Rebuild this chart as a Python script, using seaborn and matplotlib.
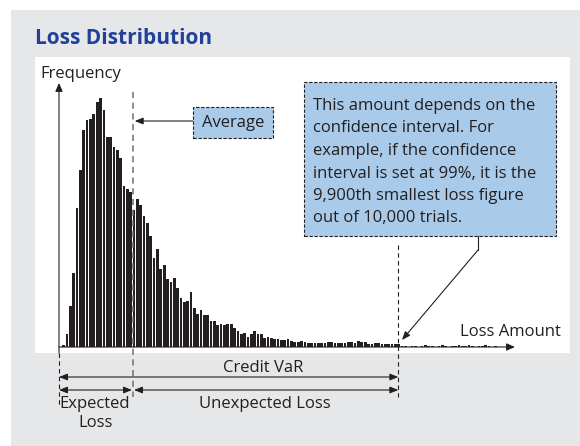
import numpy as np
import pandas as pd
import matplotlib
matplotlib.use("Agg")
import matplotlib.pyplot as plt
from matplotlib.patches import Rectangle
import seaborn as sns

# ---- data ----
# frequency per loss bucket (10,000 simulated trials, arbitrary units)
freq = [
    2, 13, 41, 74, 139, 177, 217, 227, 228, 233, 245, 249, 237,
    210, 210, 200, 197, 189, 161, 158, 155, 137, 148, 142, 131, 124,
    111, 89, 98, 78, 82, 68, 65, 69, 59, 49, 45, 46, 55, 39, 33, 37,
    32, 32, 26, 26, 22, 23, 22, 23, 23, 19, 16, 13, 14, 10, 13, 16,
    13, 13, 9,
    10, 9, 8, 8, 7, 7, 8, 6, 5, 5, 6, 5, 4, 4, 4, 4, 4, 4, 5, 5,
    4, 4, 4, 4, 5, 5, 4, 6, 5, 5, 3, 3, 4, 4, 3, 3, 3, 3, 3, 3,
    1, 1, 0, 1, 1, 0, 1, 2, 1, 1, 0, 1, 2, 1, 0, 1, 1, 2, 1, 1,
    2, 1, 0, 1, 1, 2, 1, 0, 1,
]
avg_loss = 21.2     # expected loss (bucket units)
var_loss = 100.4    # 99% quantile -> credit VaR

title = "Loss Distribution"
note_lines = [
    "This amount depends on the",
    "confidence interval. For",
    "example, if the confidence",
    "interval is set at 99%, it is the",
    "9,900th smallest loss figure",
    "out of 10,000 trials.",
]

INK = "#231f20"
BLUE = "#21409a"
BOXC = "#a9cbe9"
BG = "#e6e7e8"

sns.set_theme(style="white")
plt.rcParams["font.family"] = ["Open Sans", "DejaVu Sans"]

W, H = 580, 446
fig = plt.figure(figsize=(W / 100, H / 100), dpi=100)
fig.patch.set_facecolor("white")


def fx(x):
    return x / W


def fy(y):
    return 1 - y / H


# gray card behind everything
fig.add_artist(Rectangle((fx(11), 0), 1 - fx(11), fy(10), transform=fig.transFigure,
                         facecolor=BG, edgecolor="none", zorder=-5))

ax = fig.add_axes([fx(35), fy(353), fx(570) - fx(35), fy(57) - fy(353)])
ax.set_facecolor("white")

df = pd.DataFrame({"loss": np.arange(len(freq)) + 0.5, "freq": freq})
sns.histplot(data=df, x="loss", weights="freq", bins=len(freq), binrange=(0, len(freq)),
             shrink=0.8, color=INK, alpha=1, linewidth=0, ax=ax)

ax.set_xlim(-8.06, 151.64)
ax.set_ylim(-6, 290)
ax.set_xticks([])
ax.set_yticks([])
ax.set_xlabel("")
ax.set_ylabel("")
sns.despine(ax=ax, left=True, bottom=True)

x0 = -0.9
head = dict(color=INK, lw=0.8, shrinkA=0, shrinkB=0, mutation_scale=10)

# axes arrows
ax.annotate("", xy=(x0, 264), xytext=(x0, -6),
            arrowprops=dict(arrowstyle="-|>,head_length=0.5,head_width=0.22", **head))
ax.annotate("", xy=(135.2, 0), xytext=(x0, 0),
            arrowprops=dict(arrowstyle="-|>,head_length=0.5,head_width=0.22", **head))

# dashed markers
ax.plot([avg_loss, avg_loss], [255, -50], ls=(0, (4, 3)), color="#6d6e71", lw=1.1, clip_on=False)
ax.plot([var_loss, var_loss], [102, -50], ls=(0, (4, 3)), color=INK, lw=0.8, clip_on=False)
ax.plot([x0, x0], [-6, -60], ls=(0, (4, 3)), color=INK, lw=0.8, clip_on=False)

# dimension arrows
dim = dict(arrowstyle="<|-|>,head_length=0.5,head_width=0.2", **head)
ax.annotate("", xy=(var_loss, -30), xytext=(x0, -30), arrowprops=dim, annotation_clip=False)
ax.annotate("", xy=(avg_loss - 0.3, -43), xytext=(x0, -43), arrowprops=dim, annotation_clip=False)
ax.annotate("", xy=(var_loss, -43), xytext=(avg_loss + 0.3, -43), arrowprops=dim, annotation_clip=False)

# texts
fig.text(fx(35), fy(44), title, color=BLUE, fontsize=15, fontweight="bold", va="baseline")
fig.text(fx(40), fy(78), "Frequency", color=INK, fontsize=12, va="baseline")
fig.text(fx(460), fy(336), "Loss Amount", color=INK, fontsize=12, va="baseline")
fig.text(fx(263), fy(372), "Credit VaR", color=INK, fontsize=12, ha="center", va="baseline")
fig.text(fx(265), fy(408), "Unexpected Loss", color=INK, fontsize=12, ha="center", va="baseline")
fig.text(fx(95), fy(408), "Expected", color=INK, fontsize=12, ha="center", va="baseline")
fig.text(fx(96), fy(427), "Loss", color=INK, fontsize=12, ha="center", va="baseline")

# average callout
fig.add_artist(Rectangle((fx(193), fy(138)), fx(273) - fx(193), fy(107) - fy(138),
                         transform=fig.transFigure, facecolor=BOXC, edgecolor=INK,
                         lw=0.8, ls=(0, (3, 1.5))))
fig.text(fx(233), fy(127), "Average", color=INK, fontsize=12, ha="center", va="baseline")
ax.annotate("", xy=(avg_loss + 0.5, H - 121), xytext=(193, H - 121),
            xycoords=("data", "figure pixels"), textcoords="figure pixels",
            arrowprops=dict(arrowstyle="-|>,head_length=0.5,head_width=0.2", **head),
            annotation_clip=False)

# VaR note
fig.add_artist(Rectangle((fx(304), fy(236)), fx(556) - fx(304), fy(82) - fy(236),
                         transform=fig.transFigure, facecolor=BOXC, edgecolor=INK,
                         lw=0.8, ls=(0, (3, 1.5))))
for i, line in enumerate(note_lines):
    fig.text(fx(313), fy(110 + 22.5 * i), line, color=INK, fontsize=12, va="baseline")
fig.add_artist(plt.Line2D([fx(478), fx(478)], [fy(236), fy(250)], transform=fig.transFigure,
                          color=INK, lw=0.8))
ax.annotate("", xy=(402, H - 340), xytext=(478, H - 250),
            xycoords="figure pixels", textcoords="figure pixels",
            arrowprops=dict(arrowstyle="-|>,head_length=0.5,head_width=0.2", **head),
            annotation_clip=False)

fig.savefig("out.png", dpi=100)
